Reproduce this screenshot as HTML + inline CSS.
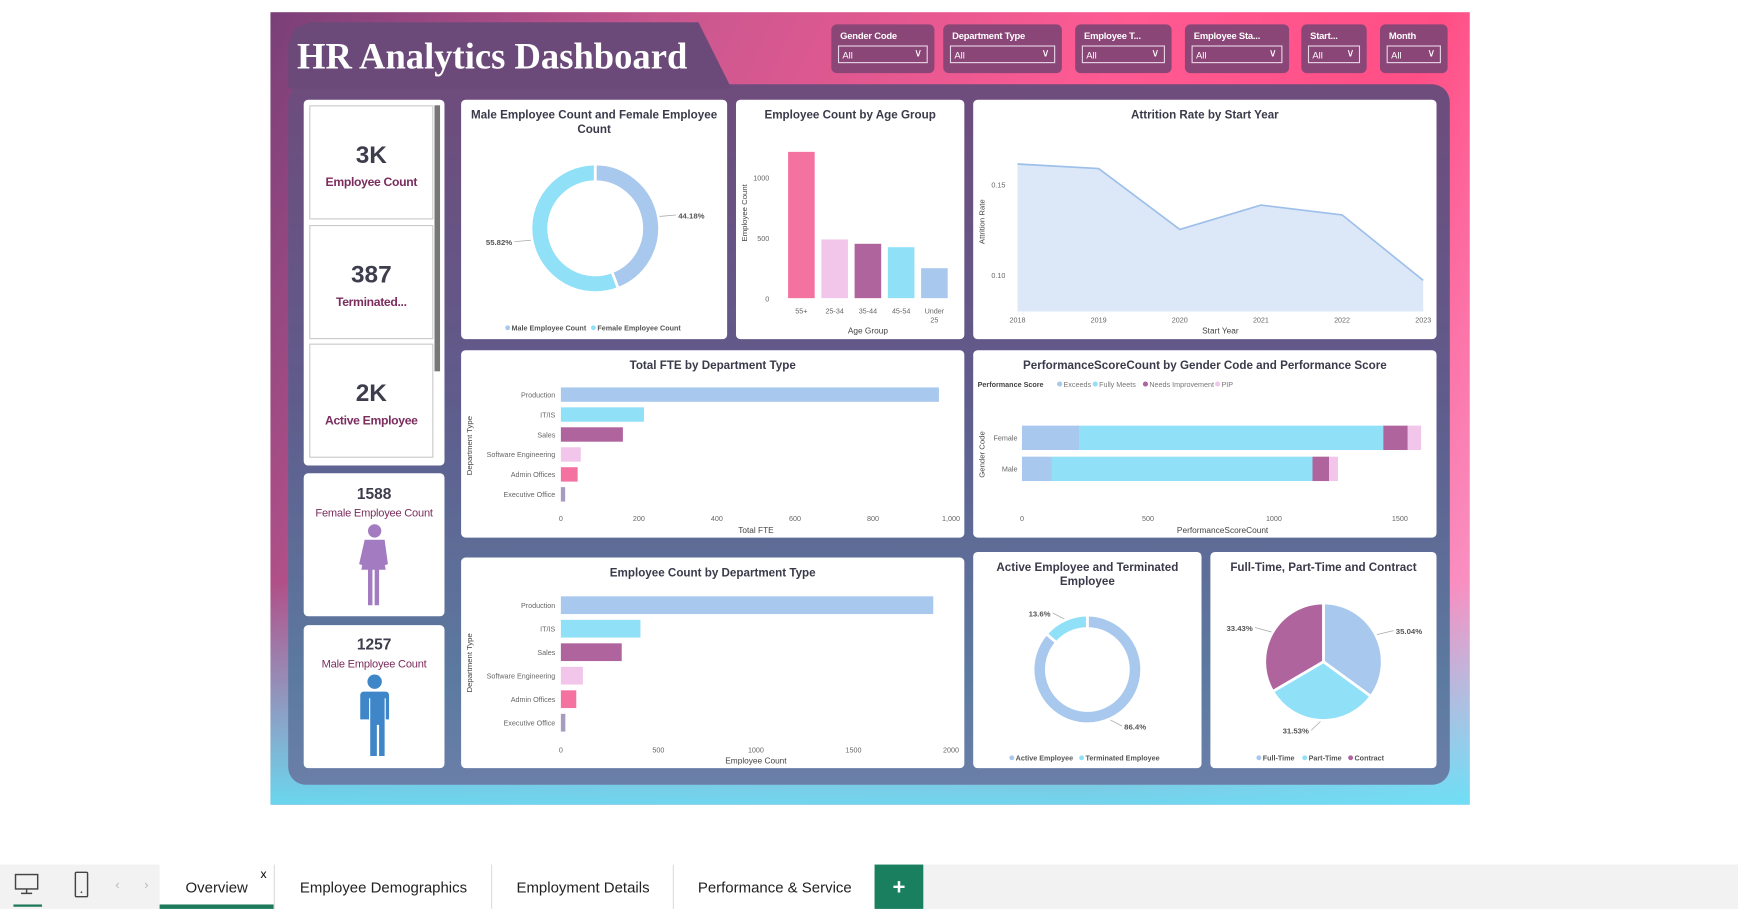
<!DOCTYPE html>
<html><head><meta charset="utf-8">
<style>
html,body{margin:0;padding:0;background:#fff;width:1738px;height:909px;overflow:hidden;font-family:"Liberation Sans",Arial,sans-serif}
#wrap{position:absolute;left:0;top:0;width:1568px;height:820px;transform:scale(1.10842);transform-origin:0 0}
.abs{position:absolute}
#bg{left:244px;top:11px;width:1082px;height:715px;background:linear-gradient(to bottom,rgba(96,228,248,0) 72%,rgba(96,228,248,0.9) 100%),linear-gradient(115deg,#7a3f78 0%,#c7578f 25%,#ff5a92 55%,#ff4f86 75%,#f7a8d8 100%)}
#panel{left:260px;top:76px;width:1048px;height:632px;border-radius:16px;background:linear-gradient(to bottom,#6e4c7c 0%,#5f5c8c 45%,#5c7aa0 85%,#6a7fa8 100%)}
#tab{left:260px;top:20px;width:400px;height:60px;background:#6b4a7a;clip-path:polygon(0 20px,6px 6px,20px 0,370px 0,400px 60px,0 60px);border-radius:14px 0 0 0}
#title{left:268px;top:34px;color:#fff;font-family:"Liberation Serif",serif;font-weight:bold;font-size:33px;letter-spacing:0px}
.sl{position:absolute;top:22px;height:44px;background:#8a4676;border-radius:5px}
.sl .l{position:absolute;left:8px;top:5px;color:#fff;font-weight:bold;font-size:8.5px;white-space:nowrap;letter-spacing:-0.2px}
.sl .d{position:absolute;left:6px;right:6px;top:19px;height:16px;border:1px solid #e9d6e8;color:#fff;font-size:8.5px;line-height:16px;padding-left:3px;box-sizing:border-box}
.sl .d i{position:absolute;right:4px;top:-1px;font-style:normal;font-size:10px}
.card{position:absolute;background:#fff;border-radius:4px}
.kpi{position:absolute;left:279px;width:110px;border:1px solid #c9c9c9;background:#fff;text-align:center}
.kpi b{display:block;font-size:22px;color:#3d3d4d;margin-top:31px}
.kpi span{display:block;font-size:11px;font-weight:bold;color:#7b2d5e;margin-top:6px;letter-spacing:-0.3px}
#tabs{left:0;top:780px;width:1568px;height:40px;background:#f2f2f2}
.t{position:absolute;top:0;height:40px;line-height:42px;font-size:13.5px;color:#222;text-align:center}
svg text{font-family:"Liberation Sans",Arial,sans-serif}
</style></head><body>
<div id="wrap">
<div id="bg" class="abs"></div>
<div id="panel" class="abs"></div>
<div id="tab" class="abs"></div>
<div id="title" class="abs">HR Analytics Dashboard</div>

<div class="sl" style="left:750px;width:93px"><div class="l">Gender Code</div><div class="d">All<i>&#8744;</i></div></div>
<div class="sl" style="left:851px;width:107px"><div class="l">Department Type</div><div class="d">All<i>&#8744;</i></div></div>
<div class="sl" style="left:970px;width:87px"><div class="l">Employee T...</div><div class="d">All<i>&#8744;</i></div></div>
<div class="sl" style="left:1069px;width:94px"><div class="l">Employee Sta...</div><div class="d">All<i>&#8744;</i></div></div>
<div class="sl" style="left:1174px;width:59px"><div class="l">Start...</div><div class="d">All<i>&#8744;</i></div></div>
<div class="sl" style="left:1245px;width:61px"><div class="l">Month</div><div class="d">All<i>&#8744;</i></div></div>

<div class="card" style="left:274px;top:90px;width:127px;height:330px"></div>
<div class="kpi" style="top:95px;height:101px"><b>3K</b><span>Employee Count</span></div>
<div class="kpi" style="top:203px;height:101px"><b>387</b><span>Terminated...</span></div>
<div class="kpi" style="top:310px;height:101px"><b>2K</b><span>Active Employee</span></div>
<div class="abs" style="left:392px;top:95px;width:5px;height:240px;background:#777"></div>

<div class="card" style="left:274px;top:427px;width:127px;height:129px;text-align:center">
<div style="font-size:14px;font-weight:bold;color:#3d3d4d;margin-top:10px">1588</div>
<div style="font-size:10px;color:#7b2d5e;margin-top:5px;letter-spacing:-0.2px">Female Employee Count</div>
<svg width="40" height="76" viewBox="0 0 40 76" style="margin-top:3px"><circle cx="20" cy="7" r="6" fill="#a27bc0"/><path d="M11 15h18l3 22-3 1-3-18 4 22h-6v32h-4V42h-2v32h-4V42H8l4-22-3 18-3-1z" fill="#a27bc0"/></svg>
</div>
<div class="card" style="left:274px;top:564px;width:127px;height:129px;text-align:center">
<div style="font-size:14px;font-weight:bold;color:#3d3d4d;margin-top:9px">1257</div>
<div style="font-size:10px;color:#7b2d5e;margin-top:5px;letter-spacing:-0.2px">Male Employee Count</div>
<svg width="40" height="78" viewBox="0 0 40 78" style="margin-top:3px"><circle cx="20" cy="7" r="6.5" fill="#3f86c8"/><path d="M10 16h20a3 3 0 0 1 3 3v22h-3V22h-1v52h-5V46h-2v28h-6V22h-1v19H7V19a3 3 0 0 1 3-3z" fill="#3f86c8"/></svg>
</div>

<div class="card" style="left:416px;top:90px;width:240px;height:216px"></div>
<div class="card" style="left:664px;top:90px;width:206px;height:216px"></div>
<div class="card" style="left:878px;top:90px;width:418px;height:216px"></div>
<div class="card" style="left:416px;top:316px;width:454px;height:169px"></div>
<div class="card" style="left:878px;top:316px;width:418px;height:169px"></div>
<div class="card" style="left:416px;top:503px;width:454px;height:190px"></div>
<div class="card" style="left:878px;top:498px;width:206px;height:195px"></div>
<div class="card" style="left:1092px;top:498px;width:204px;height:195px"></div>

<svg id="ch" class="abs" style="left:0;top:0" width="1568" height="820"></svg>

<div id="tabs" class="abs">
<svg class="abs" style="left:12px;top:8px" width="26" height="30"><rect x="2" y="1" width="20" height="13" fill="none" stroke="#444" stroke-width="1.3"/><path d="M12 14v4M7 18h10" stroke="#444" stroke-width="1.3"/><rect x="0" y="28" width="26" height="2.5" fill="#1e7a5a"/></svg>
<svg class="abs" style="left:66px;top:6px" width="16" height="26"><rect x="2" y="1" width="11" height="22" rx="1" fill="none" stroke="#444" stroke-width="1.3"/><circle cx="7.5" cy="19" r="0.8" fill="#444"/></svg>
<div class="abs" style="left:104px;top:11px;color:#bbb;font-size:12px">&#8249;</div>
<div class="abs" style="left:130px;top:11px;color:#bbb;font-size:12px">&#8250;</div>
<div class="t" style="left:144px;width:103px;background:#fff;border-bottom:4px solid #1e7a5a;height:36px">Overview</div>
<div class="abs" style="left:235px;top:3px;font-size:11px">x</div>
<div class="t" style="left:247px;width:196px;border-left:1px solid #ddd;background:#fff">Employee Demographics</div>
<div class="t" style="left:443px;width:164px;border-left:1px solid #ddd;background:#fff">Employment Details</div>
<div class="t" style="left:607px;width:182px;border-left:1px solid #ddd;background:#fff">Performance &amp; Service</div>
<div class="t" style="left:789px;width:44px;background:#1a7f5e;color:#fff;font-size:20px;font-weight:bold">+</div>
</div>
</div>

<script>
const genderLabels=["Male Employee Count","Female Employee Count"];
const genderPct=[44.18,55.82];
const ageCats=["55+","25-34","35-44","45-54","Under 25"];
const ageVals=[1211,486,450,422,248];
const ageTicks=[0,500,1000];
const years=["2018","2019","2020","2021","2022","2023"];
const attrition=[0.161,0.1585,0.125,0.1384,0.133,0.097];
const attrTicks=[0.10,0.15];
const depts=["Production","IT/IS","Sales","Software Engineering","Admin Offices","Executive Office"];
const fteVals=[969,213,159,51,43,11];
const fteTicks=[0,200,400,600,800,1000];
const deptCounts=[1909,408,312,113,79,23];
const countTicks=[0,500,1000,1500,2000];
const perfCats=["Exceeds","Fully Meets","Needs Improvement","PIP"];
const perfGenders=["Female","Male"];
const perfFemale=[229,1205,97,53];
const perfMale=[119,1034,66,35];
const perfTicks=[0,500,1000,1500];
const statusLabels=["Active Employee","Terminated Employee"];
const statusPct=[86.4,13.6];
const typeLabels=["Full-Time","Part-Time","Contract"];
const typePct=[35.04,31.53,33.43];

const C={blue:"#a9c8ee",cyan:"#90e0f8",plum:"#b0649e",pinkl:"#f2c6ea",pink:"#f472a0",gray:"#a79bbf"};
const svg=document.getElementById('ch');
const NS="http://www.w3.org/2000/svg";
function mk(tag,at,txt){const e=document.createElementNS(NS,tag);for(const k in at)e.setAttribute(k,at[k]);if(txt!==undefined)e.textContent=txt;svg.appendChild(e);return e;}
function txt(x,y,s,o){o=o||{};const e=mk('text',{x:x,y:y,'font-size':o.fs||6.5,fill:o.c||'#666','text-anchor':o.a||'middle','font-weight':o.w||'normal',transform:o.r?`rotate(-90 ${x} ${y})`:''},s);

return e;}
function title(x,y,s){const e=txt(x,y,s,{fs:10.5,c:'#3a3a4a',w:'bold',n:'chart-title'});}
function arc(cx,cy,r0,r1,a0,a1,fill,name){
 const p=(r,a)=>[cx+r*Math.sin(a),cy-r*Math.cos(a)];const lg=(a1-a0)>Math.PI?1:0;
 const [x0,y0]=p(r1,a0),[x1,y1]=p(r1,a1);let d;
 if(r0>0){const [x2,y2]=p(r0,a1),[x3,y3]=p(r0,a0);d=`M${x0} ${y0}A${r1} ${r1} 0 ${lg} 1 ${x1} ${y1}L${x2} ${y2}A${r0} ${r0} 0 ${lg} 0 ${x3} ${y3}Z`;}
 else d=`M${cx} ${cy}L${x0} ${y0}A${r1} ${r1} 0 ${lg} 1 ${x1} ${y1}Z`;
 const e=mk('path',{d:d,fill:fill,stroke:'#fff','stroke-width':2.5});
 
 }
function legend(cx,y,labels,colors){let tot=0;const w=labels.map(l=>l.length*3.6+9);w.forEach(v=>tot+=v);let x=cx-tot/2;
 labels.forEach((l,i)=>{const c=mk('circle',{cx:x+2,cy:y-2.3,r:2.2,fill:colors[i]});
 
 
 txt(x+5.5,y,l,{a:'start',fs:6.5,c:'#555',w:'bold',n:'legend-entry'});x+=w[i];});}

// Gender donut
title(536,107,"Male Employee Count and Female Employee");title(536,120,"Count");
(function(){let a=0;const cols=[C.blue,C.cyan];const tot=genderPct.reduce((s,v)=>s+v,0);
 genderPct.forEach((v,i)=>{const b=a+v/tot*2*Math.PI;arc(537,206,42,58,a,b,cols[i],'gender-slice-'+i);
  const m=(a+b)/2;const ex=537+66*Math.sin(m),ey=206-66*Math.cos(m);const right=Math.sin(m)>0;
  mk('line',{x1:537+59*Math.sin(m),y1:206-59*Math.cos(m),x2:ex+(right?8:-8),y2:ey,stroke:'#aaa','stroke-width':0.7});
  txt(ex+(right?10:-10),ey+3,v.toFixed(2)+"%",{a:right?'start':'end',fs:7,c:'#555',w:'bold',n:'gender-pct-label'});a=b;});
 legend(537,298,genderLabels,cols);})();

// Age group bars
title(767,107,"Employee Count by Age Group");
(function(){const x0=708,x1=858,yb=269,sc=54.5/500;const cols=[C.pink,C.pinkl,C.plum,C.cyan,C.blue];const bw=(x1-x0)/ageCats.length;
 ageTicks.forEach(t=>txt(694,yb-t*sc+3,String(t),{a:'end',fs:6.5,n:'age-y-tick'}));
 ageVals.forEach((v,i)=>{const cx=x0+bw*(i+0.5);const r=mk('rect',{x:cx-12,y:yb-v*sc,width:24,height:v*sc,fill:cols[i]});
  
  
  const parts=ageCats[i].split(' ');parts.forEach((p,j)=>txt(cx,yb+14+j*8,p,{fs:6.5,n:'age-x-tick'}));});
 txt(783,301,"Age Group",{fs:7.5,c:'#444',n:'age-x-title'});txt(674,192,"Employee Count",{fs:7,c:'#444',r:1,n:'age-y-title'});})();

// Attrition area
title(1087,107,"Attrition Rate by Start Year");
(function(){const x0=918,x1=1284,yb=281;const X=i=>x0+(x1-x0)*i/(years.length-1);const Y=v=>166-(v-0.15)*1640;
 attrTicks.forEach(t=>txt(907,Y(t)+3,t.toFixed(2),{a:'end',fs:6.5,n:'attr-y-tick'}));
 let d=`M${X(0)} ${yb}`;attrition.forEach((v,i)=>d+=`L${X(i)} ${Y(v)}`);d+=`L${X(years.length-1)} ${yb}Z`;
 const a=mk('path',{d:d,fill:'#dce8f8'});
 const l=mk('polyline',{points:attrition.map((v,i)=>X(i)+','+Y(v)).join(' '),fill:'none',stroke:'#9dbfea','stroke-width':1.5});
 
 years.forEach((y,i)=>txt(X(i),291,y,{fs:6.5,n:'attr-x-tick'}));
 txt(1101,301,"Start Year",{fs:7.5,c:'#444',n:'attr-x-title'});txt(888,200,"Attrition Rate",{fs:7,c:'#444',r:1,n:'attr-y-title'});})();

// Horizontal dept bars
function hbars(vals,ticks,max,y0,step,h,xt,axTitle,yTitleY,tickY,titleY,nm){
 const x0=506,x1=858;const sc=(x1-x0)/max;const cols=[C.blue,C.cyan,C.plum,C.pinkl,C.pink,C.gray];
 depts.forEach((d,i)=>{const cy=y0+i*step;txt(501,cy+2.5,d,{a:'end',fs:6.5,n:nm+'-category'});
  const r=mk('rect',{x:x0,y:cy-h/2,width:vals[i]*sc,height:h,fill:cols[i]});
  
  });
 ticks.forEach(t=>txt(x0+t*sc,tickY,t>=1000&&max===1000?t.toLocaleString('en-US'):String(t),{fs:6.5,n:nm+'-x-tick'}));
 txt(682,titleY,axTitle,{fs:7.5,c:'#444',n:nm+'-x-title'});txt(426,yTitleY,"Department Type",{fs:7,c:'#444',r:1,n:nm+'-y-title'});}
title(643,333,"Total FTE by Department Type");
hbars(fteVals,fteTicks,1000,356,18,13,0,"Total FTE",402,470,481,'fte');
title(643,520,"Employee Count by Department Type");
hbars(deptCounts,countTicks,2000,546,21.2,16,0,"Employee Count",598,679,689,'count');

// Performance stacked
title(1087,333,"PerformanceScoreCount by Gender Code and Performance Score");
(function(){const x0=922,sc=(1263-922)/1500;const cols=[C.blue,C.cyan,C.plum,C.pinkl];
 txt(882,349,"Performance Score",{a:'start',fs:6.5,c:'#444',w:'bold',n:'perf-legend-title'});
 let lx=956;perfCats.forEach((c,i)=>{const m=mk('circle',{cx:lx,cy:346.5,r:2.3,fill:cols[i]});
  txt(lx+3.5,349,c,{a:'start',fs:6.5,c:'#777',n:'legend-entry'});lx+=c.length*3.3+9;});
 [perfFemale,perfMale].forEach((row,r)=>{const cy=395+r*28;let acc=0;txt(918,cy+2.5,perfGenders[r],{a:'end',fs:6.5,n:'perf-category'});
  row.forEach((v,i)=>{const e=mk('rect',{x:x0+acc*sc,y:cy-11,width:v*sc,height:22,fill:cols[i]});
   
   acc+=v;});});
 perfTicks.forEach(t=>txt(x0+t*sc,470,String(t),{fs:6.5,n:'perf-x-tick'}));
 txt(1103,481,"PerformanceScoreCount",{fs:7.5,c:'#444',n:'perf-x-title'});txt(888,410,"Gender Code",{fs:7,c:'#444',r:1,n:'perf-y-title'});})();

// Active / terminated donut
title(981,515,"Active Employee and Terminated");title(981,528,"Employee");
(function(){const cx=981,cy=604;const cols=[C.blue,C.cyan];const tot=statusPct.reduce((s,v)=>s+v,0);let a=0;
 statusPct.forEach((v,i)=>{const b=a+v/tot*2*Math.PI;arc(cx,cy,37,49,a,b,cols[i],'status-slice-'+i);
  const m=(a+b)/2;const right=Math.sin(m)>0;const ex=cx+56*Math.sin(m),ey=cy-56*Math.cos(m);
  mk('line',{x1:cx+50*Math.sin(m),y1:cy-50*Math.cos(m),x2:ex+(right?8:-8),y2:ey,stroke:'#aaa','stroke-width':0.7});
  txt(ex+(right?10:-10),ey+3,v+"%",{a:right?'start':'end',fs:7,c:'#555',w:'bold',n:'status-pct-label'});a=b;});
 legend(981,686,statusLabels,cols);})();

// Employment type pie
title(1194,515,"Full-Time, Part-Time and Contract");
(function(){const cx=1194,cy=597;const cols=[C.blue,C.cyan,C.plum];const tot=typePct.reduce((s,v)=>s+v,0);let a=0;
 typePct.forEach((v,i)=>{const b=a+v/tot*2*Math.PI;arc(cx,cy,0,53,a,b,cols[i],'type-slice-'+i);
  const m=(a+b)/2;const right=Math.sin(m)>0;const ex=cx+62*Math.sin(m),ey=cy-62*Math.cos(m);
  mk('line',{x1:cx+54*Math.sin(m),y1:cy-54*Math.cos(m),x2:ex+(right?8:-8),y2:ey,stroke:'#aaa','stroke-width':0.7});
  txt(ex+(right?10:-10),ey+3,v.toFixed(2)+"%",{a:right?'start':'end',fs:7,c:'#555',w:'bold',n:'type-pct-label'});a=b;});
 legend(1194,686,typeLabels,cols);})();
</script>
</body></html>
